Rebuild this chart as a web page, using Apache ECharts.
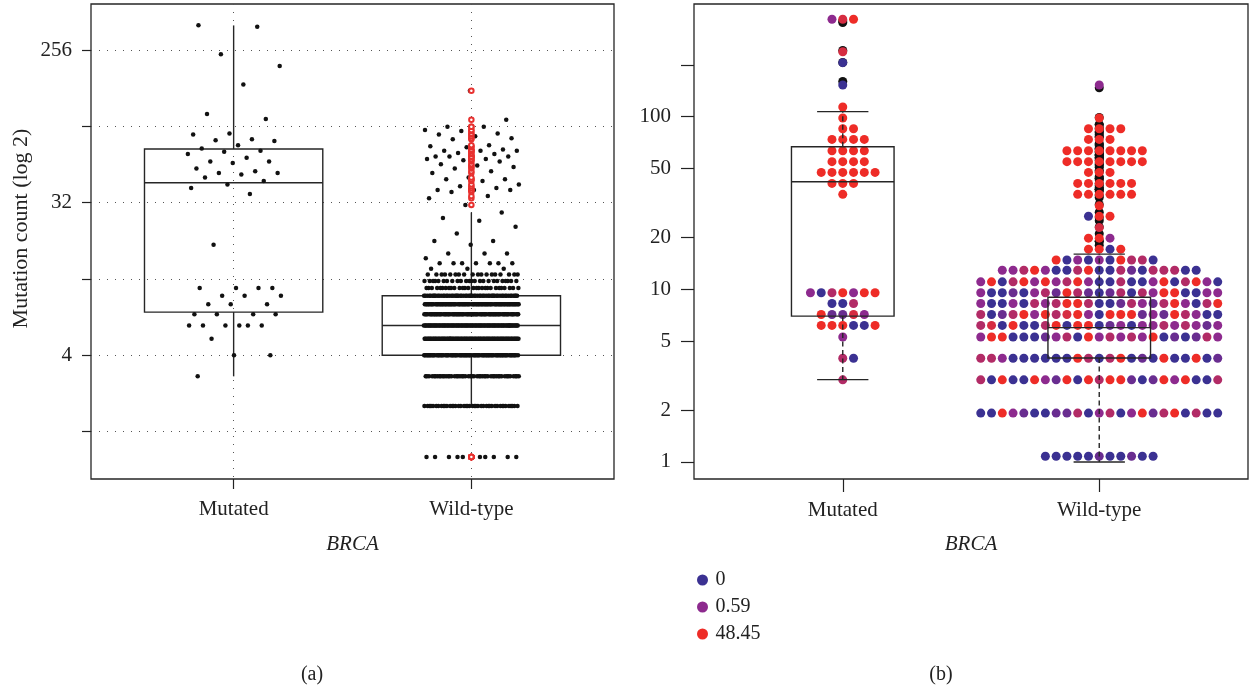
<!DOCTYPE html>
<html>
<head>
<meta charset="utf-8">
<script src="https://cdn.jsdelivr.net/npm/echarts@6/dist/echarts.min.js"></script>
<style>
  html, body { margin: 0; background: #fff; }
  #chart { width: 1250px; height: 688px; }
</style>
</head>
<body>
<div id="chart"></div>
<script>
// ---- data ----
const groups = ['Mutated', 'Wild-type'];

// (a) mutation count of every sample
const mutatedCounts = [359, 351, 242, 206, 160, 107, 100, 82, 81, 76, 75, 74, 70, 67, 65, 64, 62, 59,
  56, 56, 55, 51, 49, 48, 48, 47, 45, 43, 41, 39, 36, 18, 10, 10, 10, 10, 9, 9, 9, 8, 8, 8,
  7, 7, 7, 7, 6, 6, 6, 6, 6, 6, 5, 4, 4, 3];

// wild-type: [mutation count, number of samples]
const wildTypeCounts = [
  [1, 11], [2, 42], [3, 48], [4, 80], [5, 90], [6, 90], [7, 80], [8, 85], [9, 60], [10, 28],
  [11, 24], [12, 18], [13, 3], [14, 7], [15, 1], [16, 3], [18, 1], [19, 2], [21, 1], [23, 1],
  [25, 1], [26, 1], [28, 1], [31, 1], [34, 1], [35, 1], [37, 1], [38, 3], [39, 1], [40, 1],
  [41, 1], [43, 1], [44, 2], [45, 1], [48, 1], [49, 1], [51, 1], [52, 1], [53, 1], [54, 1],
  [56, 1], [57, 1], [58, 2], [60, 4], [62, 1], [63, 1], [65, 3], [66, 1], [68, 1], [69, 1],
  [70, 1], [76, 1], [77, 1], [79, 1], [81, 1], [82, 1], [85, 1], [86, 1], [90, 2], [99, 1], [147, 1]
];

// box statistics [lower whisker, Q1, median, Q3, upper whisker]
const boxStatsA = [[3, 7.2, 42, 66.4, 358], [2, 4, 6, 9, 28]];
const boxStatsB = [[3, 7, 42, 67, 107], [1, 4, 6, 9, 16]];

// axis ticks
const tickExpA = [0.5, 2, 3.5, 5, 6.5, 8];      // log2 positions of ticks
const labelExpA = [2, 5, 8];                     // 4, 32, 256
const tickValuesB = [1, 2, 5, 10, 20, 50, 100, 200];
const labelValuesB = [1, 2, 5, 10, 20, 50, 100];

// (b) beeswarm rows: [mutation count, score code of each dot from left to right]
const scoreOf = { b: 0, v: 0.3, p: 0.59, m: 5, c: 20, r: 48.45 };
const legendScores = [0, 0.59, 48.45];

const swarmMutated = [
  [2.99, 'm'], [3.99, 'mb'], [5.3, 'p'], [6.18, 'rrrbbr'], [7.15, 'rvvcp'], [8.28, 'bbm'],
  [9.55, 'pbmrprr'], [35.5, 'r'], [41.1, 'rrr'], [47.6, 'rrrrrr'], [54.9, 'rrrr'], [63.5, 'rrrr'],
  [73.9, 'rrrr'], [85.2, 'rr'], [98.3, 'r'], [113.8, 'r'], [152.7, 'b'], [205.6, 'b'],
  [238, 'c'], [367, 'pcr']
];

const swarmWild = [
  [1.08, 'bbbbbvbbvbb'],
  [1.92, 'bbrpvbbvvmbpmbprvmrbmbb'],
  [2.99, 'mbrbbrpvrbrmrrvbvrprbbm'],
  [3.99, 'mmpbbbbbbrmbmrbvbrbbrbv'],
  [5.3, 'prrbbbvpmbrpmpmprbvbvmp'],
  [6.18, 'mcbrbbmrbrrbvpbppmpmpvp'],
  [7.15, 'mbvmrprmcrpbrrrvpvrmpbb'],
  [8.28, 'pbbpbmpmrrmbbvmpvmrpbmr'],
  [9.55, 'pbbvbpmvrmvbvmbmprrbbpp'],
  [11.05, 'prbmrprpmrpbbmbbprbmrpb'],
  [12.9, 'ppmrpbbmrbbmvbmmmbb'],
  [14.8, 'rbpbpbrmmb'],
  [17.1, 'rrbr'],
  [19.8, 'rrp'],
  [22.8, 'c'],
  [26.5, 'brr'],
  [30.5, 'r'],
  [35.5, 'rrrrrr'],
  [41.1, 'rrrrrr'],
  [47.6, 'rrr'],
  [54.9, 'rrrrrrrr'],
  [63.5, 'rrrrrrrr'],
  [73.9, 'rrr'],
  [85.2, 'rrrr'],
  [98.3, 'r'],
  [152.7, 'p']
];

// ---- helpers ----
const serif = '"Liberation Serif", "DejaVu Serif", serif';
const ink = '#222';
const GOLD = 0.6180339887;
const jitterAmount = 0.2;
const swarmStep = 0.042;   // beeswarm column spacing, x units

const frac = v => v - Math.floor(v);
const wildValues = [];
wildTypeCounts.forEach(([v, n]) => { for (let i = 0; i < n; i++) wildValues.push(v); });

// deterministic jitter (golden-ratio sequence) instead of R's runif
function jitter(values, center, seed) {
  return values.map((v, i) => [center + jitterAmount * (2 * frac(seed + i * GOLD) - 1), Math.log2(v)]);
}

// square beeswarm: dots fill columns 0, +1, -1, +2, -2 ...
function swarm(rows, center) {
  const pts = [];
  rows.forEach(([value, codes]) => {
    const ks = [];
    for (let i = 0; i < codes.length; i++) ks.push(i % 2 ? (i + 1) / 2 : -i / 2);
    ks.sort((a, b) => a - b);
    codes.split('').forEach((c, i) => pts.push([center + ks[i] * swarmStep, Math.log10(value), scoreOf[c]]));
  });
  return pts;
}

const colorStops = [[0, [59, 49, 146]], [0.59, [141, 42, 142]], [48.45, [238, 44, 39]]];
function scoreColor(s) {
  const t = Math.log1p(s);
  for (let i = 1; i < colorStops.length; i++) {
    const t0 = Math.log1p(colorStops[i - 1][0]), t1 = Math.log1p(colorStops[i][0]);
    if (t <= t1 || i === colorStops.length - 1) {
      const f = Math.max(0, Math.min(1, (t - t0) / (t1 - t0)));
      const a = colorStops[i - 1][1], b = colorStops[i][1];
      return 'rgb(' + a.map((c, j) => Math.round(c + (b[j] - c) * f)).join(',') + ')';
    }
  }
}

function boxRenderer(halfWidth, capHalf, dashed) {
  return function (params, api) {
    const x = api.value(0);
    const p = [1, 2, 3, 4, 5].map(i => api.coord([x, api.value(i)])[1]);
    const cx = api.coord([x, api.value(3)])[0];
    const left = api.coord([x - halfWidth, api.value(3)])[0];
    const right = api.coord([x + halfWidth, api.value(3)])[0];
    const stroke = { stroke: '#262626', lineWidth: 1.4 };
    const whisk = Object.assign({}, stroke, dashed ? { lineDash: [5, 3.5] } : {});
    const kids = [
      { type: 'line', shape: { x1: cx, y1: p[3], x2: cx, y2: p[4] }, style: whisk },
      { type: 'line', shape: { x1: cx, y1: p[1], x2: cx, y2: p[0] }, style: whisk },
      { type: 'rect', shape: { x: left, y: p[3], width: right - left, height: p[1] - p[3] },
        style: Object.assign({ fill: 'none' }, stroke) },
      { type: 'line', shape: { x1: left, y1: p[2], x2: right, y2: p[2] }, style: stroke }
    ];
    if (capHalf) {
      const cl = api.coord([x - capHalf, 0])[0], cr = api.coord([x + capHalf, 0])[0];
      kids.push({ type: 'line', shape: { x1: cl, y1: p[4], x2: cr, y2: p[4] }, style: stroke });
      kids.push({ type: 'line', shape: { x1: cl, y1: p[0], x2: cr, y2: p[0] }, style: stroke });
    }
    return { type: 'group', children: kids };
  };
}

// ---- series data ----
const pointsA = jitter(mutatedCounts, 1, 0.13).concat(jitter(wildValues, 2, 0.41));
const outliersA = wildValues
  .filter(v => v > boxStatsA[1][4] || v < boxStatsA[1][0])
  .map(v => [2, Math.log2(v)]);
const boxDataA = boxStatsA.map((s, i) => [i + 1].concat(s.map(Math.log2)));
const boxDataB = boxStatsB.map((s, i) => [i + 1].concat(s.map(Math.log10)));
const blackB = mutatedCounts.filter(v => v > boxStatsB[0][4]).map(v => [1, Math.log10(v)])
  .concat(wildValues.filter(v => v > boxStatsB[1][4]).map(v => [2, Math.log10(v)]));
const swarmB = swarm(swarmMutated, 1).concat(swarm(swarmWild, 2));

const dotted = { type: [1, 7], color: '#555', width: 1 };
const txt = { fontFamily: serif, fontSize: 21, color: ink };

const chart = echarts.init(document.getElementById('chart'));
chart.setOption({
  animation: false,
  backgroundColor: '#fff',
  grid: [
    { left: 91, top: 4, width: 523, height: 475, show: true, borderColor: '#262626', borderWidth: 1.3, outerBoundsMode: 'none' },
    { left: 694, top: 4, width: 554, height: 475, show: true, borderColor: '#262626', borderWidth: 1.3, outerBoundsMode: 'none' }
  ],
  xAxis: [
    {
      gridIndex: 0, type: 'value', min: 0.4, max: 2.6,
      axisLine: { show: false, onZero: false },
      axisTick: { show: true, length: 10, customValues: [1, 2], lineStyle: { color: ink, width: 1.2 } },
      axisLabel: Object.assign({ customValues: [1, 2], margin: 20, formatter: v => groups[Math.round(v) - 1] }, txt),
      splitLine: { show: true, lineStyle: dotted },
      name: 'BRCA', nameLocation: 'middle', nameGap: 55,
      nameTextStyle: Object.assign({ fontStyle: 'italic' }, txt)
    },
    {
      gridIndex: 1, type: 'value', min: 0.42, max: 2.58,
      axisLine: { show: false, onZero: false },
      axisTick: { show: true, length: 13, customValues: [1, 2], lineStyle: { color: ink, width: 1.2 } },
      axisLabel: Object.assign({ customValues: [1, 2], margin: 21, formatter: v => groups[Math.round(v) - 1] }, txt),
      splitLine: { show: false },
      name: 'BRCA', nameLocation: 'middle', nameGap: 55,
      nameTextStyle: Object.assign({ fontStyle: 'italic' }, txt)
    }
  ],
  yAxis: [
    {
      gridIndex: 0, type: 'value', min: -0.433, max: 8.905,
      axisLine: { show: false, onZero: false },
      axisTick: { show: true, length: 9, customValues: tickExpA, lineStyle: { color: ink, width: 1.2 } },
      axisLabel: Object.assign({ customValues: labelExpA, margin: 19, formatter: v => String(Math.round(Math.pow(2, v))) }, txt),
      splitLine: { show: true, lineStyle: dotted },
      name: 'Mutation count (log 2)', nameLocation: 'middle', nameGap: 59,
      nameTextStyle: Object.assign({}, txt, { fontSize: 22, padding: [0, 0, 0, 26] })
    },
    {
      gridIndex: 1, type: 'value', min: -0.0986, max: 2.653,
      axisLine: { show: false, onZero: false },
      axisTick: { show: true, length: 13, customValues: tickValuesB.map(Math.log10), lineStyle: { color: ink, width: 1.2 } },
      axisLabel: Object.assign({ customValues: labelValuesB.map(Math.log10), margin: 23,
        formatter: v => String(Math.round(Math.pow(10, v))) }, txt),
      splitLine: { show: false }
    }
  ],
  legend: {
    left: 692, top: 565, orient: 'vertical', icon: 'circle',
    itemWidth: 16, itemHeight: 11, itemGap: 7, selectedMode: false,
    textStyle: Object.assign({}, txt, { fontSize: 20 }),
    data: legendScores.map(String)
  },
  graphic: [
    { type: 'text', x: 312, y: 675, style: { text: '(a)', font: '20px ' + serif, fill: ink, align: 'center', verticalAlign: 'middle' } },
    { type: 'text', x: 941, y: 675, style: { text: '(b)', font: '20px ' + serif, fill: ink, align: 'center', verticalAlign: 'middle' } }
  ],
  series: [
    {
      type: 'custom', xAxisIndex: 0, yAxisIndex: 0, z: 2,
      renderItem: boxRenderer(0.375, 0, false),
      encode: { x: 0, y: [1, 2, 3, 4, 5] },
      data: boxDataA
    },
    {
      type: 'scatter', xAxisIndex: 0, yAxisIndex: 0, z: 3,
      symbolSize: 4.5, itemStyle: { color: '#111', opacity: 1 },
      data: pointsA
    },
    {
      type: 'scatter', xAxisIndex: 0, yAxisIndex: 0, z: 4,
      symbol: 'emptyCircle', symbolSize: 4.5,
      itemStyle: { color: '#e8312f', borderWidth: 1, opacity: 1 },
      data: outliersA
    },
    {
      type: 'scatter', xAxisIndex: 1, yAxisIndex: 1, z: 2,
      symbolSize: 9, itemStyle: { color: '#111', opacity: 1 },
      data: blackB
    },
    {
      type: 'scatter', xAxisIndex: 1, yAxisIndex: 1, z: 3,
      symbolSize: 9,
      itemStyle: { opacity: 1, color: p => scoreColor(p.value[2]) },
      data: swarmB
    },
    {
      type: 'custom', xAxisIndex: 1, yAxisIndex: 1, z: 4,
      renderItem: boxRenderer(0.2, 0.1, true),
      encode: { x: 0, y: [1, 2, 3, 4, 5] },
      data: boxDataB
    }
  ].concat(legendScores.map(s => ({
    type: 'scatter', name: String(s), xAxisIndex: 1, yAxisIndex: 1,
    itemStyle: { color: scoreColor(s), opacity: 1 }, data: []
  })))
});
</script>
</body>
</html>
